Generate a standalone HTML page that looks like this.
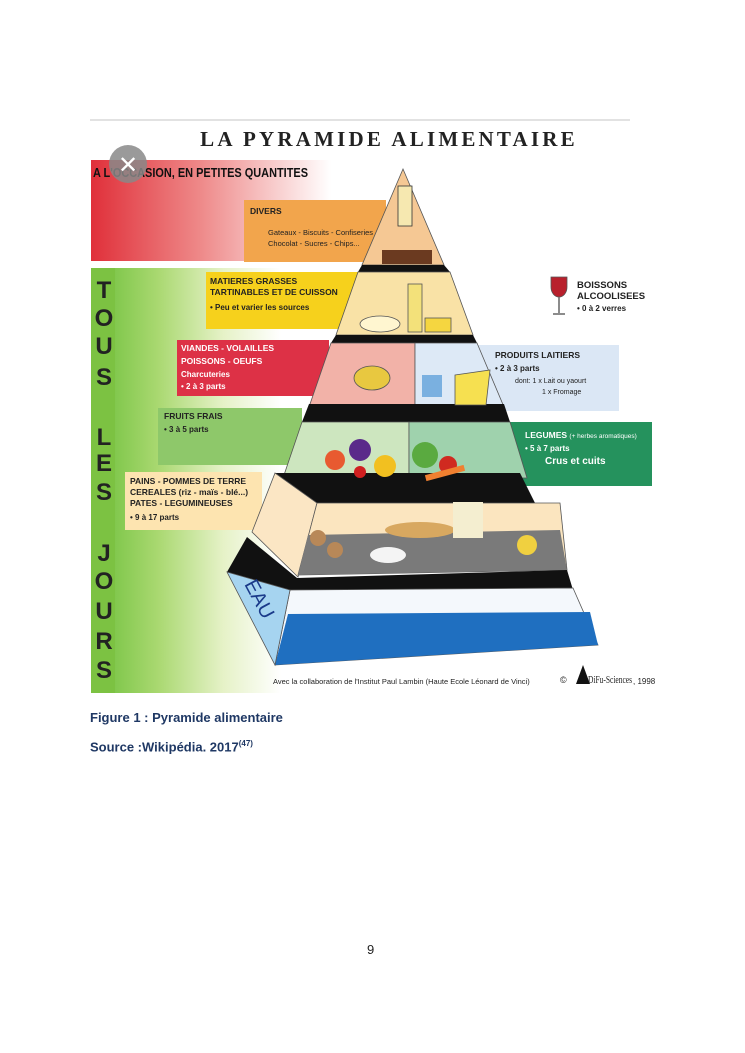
<!DOCTYPE html>
<html><head><meta charset="utf-8"><style>
html,body{margin:0;padding:0;background:#fff;}
body{width:745px;height:1053px;position:relative;overflow:hidden;font-family:"Liberation Sans",sans-serif;}
.cap{position:absolute;left:90px;font-family:"Liberation Sans",sans-serif;font-weight:bold;font-size:13px;color:#1f3864;}
</style></head><body>
<svg width="745" height="1053" style="position:absolute;left:0;top:0" font-family="Liberation Sans, sans-serif">
<defs>
<linearGradient id="rg" x1="0" x2="1" y1="0" y2="0">
<stop offset="0" stop-color="#e0303a"/><stop offset="0.45" stop-color="#ee8888"/><stop offset="1" stop-color="#ffffff"/></linearGradient>
<linearGradient id="gg" x1="0" x2="1" y1="0" y2="0">
<stop offset="0" stop-color="#6cbf3a"/><stop offset="0.35" stop-color="#a9d870"/><stop offset="0.7" stop-color="#e6f2c8"/><stop offset="1" stop-color="#ffffff"/></linearGradient>
</defs>
<line x1="90" y1="120" x2="630" y2="120" stroke="#d8d8d8" stroke-width="1.5"/>
<text x="389" y="146" text-anchor="middle" font-family="Liberation Serif, serif" font-weight="bold" font-size="21" letter-spacing="3.2" fill="#222">LA PYRAMIDE ALIMENTAIRE</text>
<rect x="91" y="160" width="240" height="101" fill="url(#rg)"/>
<rect x="91" y="268" width="190" height="425" fill="url(#gg)"/>
<rect x="91" y="268" width="24" height="425" fill="#7cc242"/>
<text x="93" y="177" font-size="12.5" font-weight="bold" fill="#111" textLength="215" lengthAdjust="spacingAndGlyphs">A L'OCCASION, EN PETITES QUANTITES</text>
<circle cx="128" cy="164" r="19" fill="#888" opacity="0.85"/>
<text x="128" y="173" text-anchor="middle" font-size="24" fill="#fff">✕</text>
<g font-size="24" font-weight="bold" fill="#222" text-anchor="middle">
<text x="104" y="298">T</text><text x="104" y="326">O</text><text x="104" y="354">U</text><text x="104" y="385">S</text>
<text x="104" y="445">L</text><text x="104" y="471">E</text><text x="104" y="500">S</text>
<text x="104" y="561">J</text><text x="104" y="589">O</text><text x="104" y="619">U</text><text x="104" y="649">R</text><text x="104" y="678">S</text>
</g>
<rect x="244" y="200" width="142" height="62" fill="#f2a54c"/>
<rect x="206" y="272" width="154" height="57" fill="#f6d11c"/>
<rect x="177" y="340" width="152" height="56" fill="#dd3146"/>
<rect x="477" y="345" width="142" height="66" fill="#dbe7f5"/>
<rect x="158" y="408" width="144" height="57" fill="#8ec86a"/>
<rect x="510" y="422" width="142" height="64" fill="#25925d"/>
<rect x="125" y="472" width="137" height="58" fill="#fde4b0"/>
<!-- pyramid -->
<polygon points="403,169 444,265 362,265" fill="#f5c894" stroke="#555" stroke-width="0.8"/>
<polygon points="362,265 444,265 450,272 358,272" fill="#111"/>
<polygon points="358,272 450,272 473,335 336,335" fill="#f9e2a6" stroke="#555" stroke-width="0.8"/>
<polygon points="336,335 473,335 477,343 331,343" fill="#111"/>
<polygon points="331,343 415,343 415,407 309,407" fill="#f2b2a8" stroke="#555" stroke-width="0.8"/>
<polygon points="415,343 477,343 504,407 415,407" fill="#dde9f6" stroke="#555" stroke-width="0.8"/>
<polygon points="309,404 504,404 510,422 302,422" fill="#111"/>
<polygon points="302,422 409,422 409,478 283,478" fill="#cde6bf" stroke="#555" stroke-width="0.8"/>
<polygon points="409,422 510,422 527,478 409,478" fill="#9fd2ad" stroke="#555" stroke-width="0.8"/>
<!-- layer 5 -->
<polygon points="275,473 520,473 535,503 317,503" fill="#111"/>
<polygon points="275,473 317,503 298,577 252,532" fill="#fbe6c4" stroke="#555" stroke-width="0.8"/>
<polygon points="317,503 560,503 567,570 298,575" fill="#fbe5bf" stroke="#555" stroke-width="0.8"/>
<polygon points="308,535 560,530 567,570 298,575" fill="#7a7a7a"/>
<!-- band 5 -->
<polygon points="247,537 297,578 567,570 573,590 290,590 227,572" fill="#111"/>
<!-- layer 6 -->
<polygon points="290,590 573,588 598,645 275,665" fill="#f4f8fc" stroke="#555" stroke-width="0.8"/>
<polygon points="288,614 590,612 598,645 275,665" fill="#1f6fc0"/>
<polygon points="227,572 290,590 275,665" fill="#a6d4f0" stroke="#555" stroke-width="0.8"/>
<text x="238" y="590" font-size="20" fill="#1a3a8a" transform="rotate(62 246 592)">EAU</text>
<!-- food blobs -->
<rect x="398" y="186" width="14" height="40" fill="#f6e8b0" stroke="#333" stroke-width="0.8"/>
<rect x="382" y="250" width="50" height="14" fill="#6b3a20"/>
<rect x="408" y="284" width="14" height="48" fill="#f3e17a" stroke="#555" stroke-width="0.8"/>
<rect x="425" y="318" width="26" height="14" fill="#f5d640" stroke="#555" stroke-width="0.8"/>
<ellipse cx="380" cy="324" rx="20" ry="8" fill="#fff6d0" stroke="#555" stroke-width="0.8"/>
<ellipse cx="372" cy="378" rx="18" ry="12" fill="#e8c840" stroke="#555" stroke-width="0.8"/>
<polygon points="455,375 490,370 486,405 455,405" fill="#f6e050" stroke="#555" stroke-width="0.8"/>
<rect x="422" y="375" width="20" height="22" fill="#7ab0e0"/>
<circle cx="335" cy="460" r="10" fill="#e85a30"/><circle cx="360" cy="450" r="11" fill="#5a2a8a"/><circle cx="385" cy="466" r="11" fill="#f2c020"/><circle cx="360" cy="472" r="6" fill="#d02020"/>
<circle cx="425" cy="455" r="13" fill="#5aaa40"/><circle cx="448" cy="465" r="9" fill="#d02a20"/><rect x="425" y="470" width="40" height="6" fill="#f08030" transform="rotate(-15 445 473)"/>
<ellipse cx="420" cy="530" rx="35" ry="8" fill="#d8a860"/><rect x="453" y="502" width="30" height="36" fill="#f4eed0"/>
<circle cx="318" cy="538" r="8" fill="#b88858"/><circle cx="335" cy="550" r="8" fill="#b88858"/><ellipse cx="388" cy="555" rx="18" ry="8" fill="#f4f4f4"/>
<circle cx="527" cy="545" r="10" fill="#f0d040"/>
<!-- boissons -->
<path d="M551,277 h16 v10 a8,10 0 0 1 -16,0z" fill="#b8202c" stroke="#555" stroke-width="0.8"/>
<line x1="559" y1="297" x2="559" y2="313" stroke="#666" stroke-width="1.5"/><line x1="553" y1="314" x2="565" y2="314" stroke="#666" stroke-width="1.5"/>
<g font-size="9.5" font-weight="bold" fill="#222">
<text x="577" y="288">BOISSONS</text><text x="577" y="299">ALCOOLISEES</text><text x="577" y="311" font-size="8">• 0 à 2 verres</text>
</g>
<g font-weight="bold" fill="#222" font-size="8.5">
<text x="250" y="214">DIVERS</text>
<text x="268" y="235" font-weight="normal" font-size="7.5">Gateaux - Biscuits - Confiseries</text>
<text x="268" y="246" font-weight="normal" font-size="7.5">Chocolat - Sucres - Chips...</text>
<text x="210" y="284">MATIERES GRASSES</text><text x="210" y="295">TARTINABLES ET DE CUISSON</text>
<text x="210" y="310" font-size="8">• Peu et varier les sources</text>
<text x="181" y="351" fill="#fff">VIANDES - VOLAILLES</text><text x="181" y="364" fill="#fff">POISSONS - OEUFS</text>
<text x="181" y="377" fill="#fff" font-size="8">Charcuteries</text><text x="181" y="389" fill="#fff" font-size="8">• 2 à 3 parts</text>
<text x="495" y="358">PRODUITS LAITIERS</text><text x="495" y="371" font-size="8">• 2 à 3 parts</text>
<text x="515" y="383" font-weight="normal" font-size="7">dont:   1 x Lait ou yaourt</text>
<text x="542" y="394" font-weight="normal" font-size="7">1 x Fromage</text>
<text x="164" y="419">FRUITS FRAIS</text><text x="164" y="432" font-size="8">• 3 à 5 parts</text>
<text x="525" y="438" fill="#fff">LEGUMES <tspan font-weight="normal" font-size="6.5">(+ herbes aromatiques)</tspan></text>
<text x="525" y="451" fill="#fff" font-size="8">• 5 à 7 parts</text><text x="545" y="464" fill="#fff" font-size="10">Crus et cuits</text>
<text x="130" y="484">PAINS - POMMES DE TERRE</text><text x="130" y="495">CEREALES (riz - maïs - blé...)</text>
<text x="130" y="506">PATES - LEGUMINEUSES</text><text x="130" y="520" font-size="8">• 9 à 17 parts</text>
</g>
<text x="273" y="684" font-size="7.5" fill="#222">Avec la collaboration de l'Institut Paul Lambin (Haute Ecole Léonard de Vinci)</text>
<text x="560" y="683" font-size="9" fill="#222">©</text>
<polygon points="583,665 576,684 590,684" fill="#111"/>
<text x="588" y="683" font-size="10" font-family="Liberation Serif, serif" fill="#222" textLength="44" lengthAdjust="spacingAndGlyphs">DiFu-Sciences</text>
<text x="633" y="684" font-size="8" fill="#222">, 1998</text>
</svg>
<div class="cap" style="top:710px">Figure 1 : Pyramide alimentaire</div>
<div class="cap" style="top:739px">Source :Wikipédia. 2017<sup style="font-size:8px">(47)</sup></div>
<div style="position:absolute;left:367px;top:942px;font-size:13px;color:#222">9</div>
</body></html>
